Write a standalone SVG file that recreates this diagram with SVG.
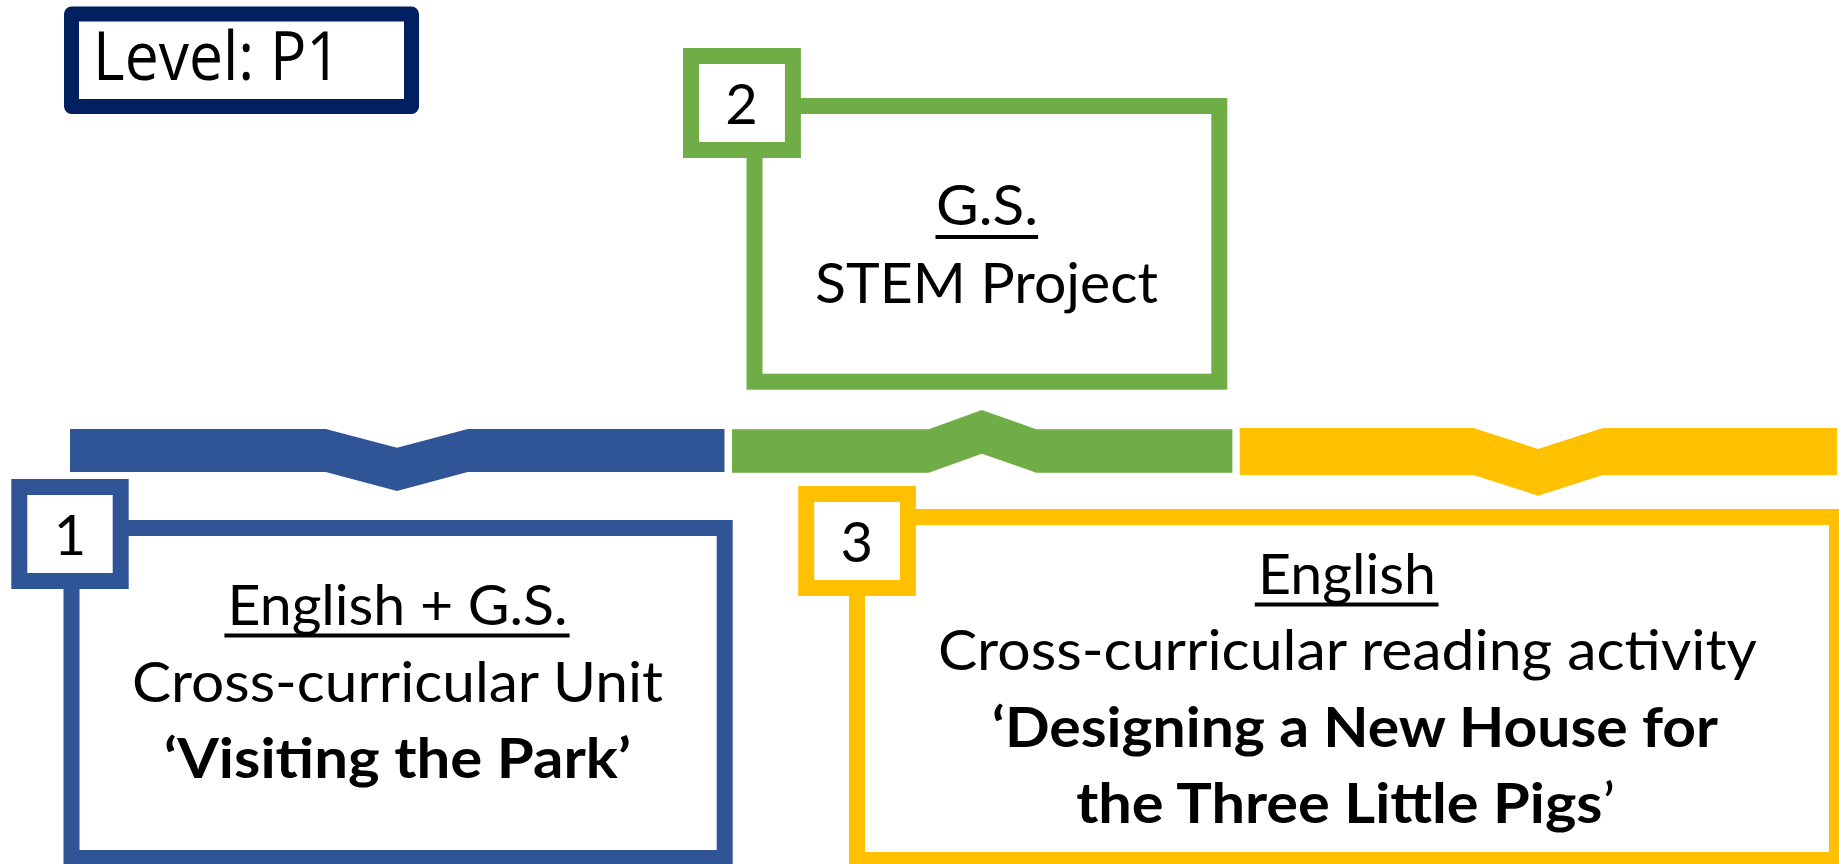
<svg xmlns="http://www.w3.org/2000/svg" width="1839" height="864" viewBox="0 0 1839 864">
  <style>
    .txt { font-family: Lato, "Liberation Sans", sans-serif; font-size: 56px; fill: #000; text-anchor: middle; }
    .b { font-weight: bold; }
    .n { font-weight: normal; }
    .ul { stroke: #000; stroke-width: 4; }
    .frame { fill: #fff; stroke-width: 16; }
    .blue { stroke: #2F5597; }
    .green { stroke: #70AD47; }
    .yellow { stroke: #FFC000; }
  </style>

  <rect width="1839" height="864" fill="#fff"/>

  <!-- level label -->
  <g id="level">
    <rect x="71.5" y="14" width="340" height="92.5" fill="#fff" stroke="#002060" stroke-width="15" stroke-linejoin="round"/>
    <text x="217" y="80" font-family="'Open Sans', 'Liberation Sans', sans-serif" font-size="67" text-anchor="middle" textLength="248" lengthAdjust="spacingAndGlyphs">Level: P1</text>
  </g>

  <!-- timeline segments -->
  <g id="connectors">
    <polygon fill="#2F5597" points="70,429 325.7,429 397,447.7 467.7,429 724.5,429 724.5,472 467.7,472 397,491 325.7,472 70,472"/>
    <polygon fill="#70AD47" points="732,429.3 928.8,429.3 981.8,410 1036.3,429.3 1232.4,429.3 1232.4,472.7 1036.3,472.7 981.8,453.7 928.8,472.7 732,472.7"/>
    <polygon fill="#FFC000" points="1239.7,428 1473.6,428 1538,449 1602.9,428 1837,428 1837,475 1602.9,475 1538,495.7 1473.6,475 1239.7,475"/>
  </g>

  <!-- step 2 -->
  <g id="step2">
    <rect class="frame green" x="754.5" y="106" width="464.8" height="275.7"/>
    <rect class="frame green" x="691" y="56" width="101.9" height="94"/>
    <text class="txt" x="741.5" y="124">2</text>
    <text class="txt" x="987" y="225" textLength="102" lengthAdjust="spacingAndGlyphs">G.S.</text>
    <line class="ul" x1="935.5" y1="237" x2="1038.1" y2="237"/>
    <text class="txt" x="986.5" y="303.3" textLength="343" lengthAdjust="spacingAndGlyphs">STEM Project</text>
  </g>

  <!-- step 1 -->
  <g id="step1">
    <rect class="frame blue" x="71.5" y="528" width="653.2" height="330"/>
    <rect class="frame blue" x="19.3" y="487" width="101.4" height="94"/>
    <text class="txt" x="70" y="555">1</text>
    <text class="txt" x="397.5" y="625" textLength="340" lengthAdjust="spacingAndGlyphs">English + G.S.</text>
    <line class="ul" x1="224.4" y1="635.5" x2="569.6" y2="635.5"/>
    <text class="txt" x="397.5" y="701.7" textLength="531" lengthAdjust="spacingAndGlyphs">Cross-curricular Unit</text>
    <text class="txt b" x="397.5" y="778.3" textLength="467" lengthAdjust="spacingAndGlyphs">‘Visiting the Park’</text>
  </g>

  <!-- step 3 -->
  <g id="step3">
    <rect class="frame yellow" x="857" y="517" width="980" height="343"/>
    <rect class="frame yellow" x="806.2" y="494" width="101.7" height="94"/>
    <text class="txt" x="856.7" y="561.7">3</text>
    <text class="txt" x="1347" y="594" textLength="178" lengthAdjust="spacingAndGlyphs">English</text>
    <line class="ul" x1="1254.8" y1="604.5" x2="1438.5" y2="604.5"/>
    <text class="txt" x="1347.4" y="670" textLength="819" lengthAdjust="spacingAndGlyphs">Cross-curricular reading activity</text>
    <text class="txt b" x="1355" y="746.7" textLength="726" lengthAdjust="spacingAndGlyphs">‘Designing a New House for</text>
    <text class="txt b" x="1345.7" y="823.3" textLength="539" lengthAdjust="spacingAndGlyphs">the Three Little Pigs<tspan class="n">’</tspan></text>
  </g>
</svg>
